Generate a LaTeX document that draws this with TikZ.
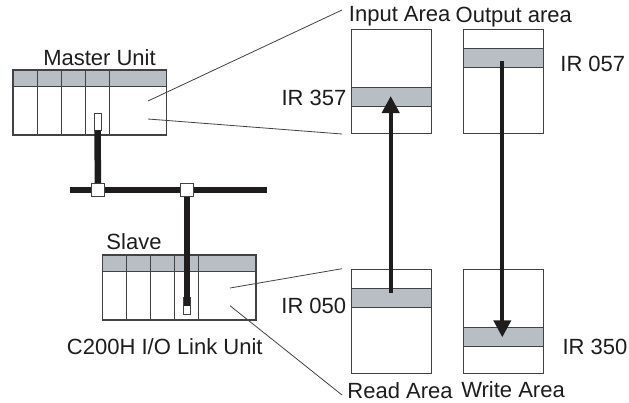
\documentclass[tikz,border=0pt]{standalone}
\usepackage{fontspec}
\setmainfont{Liberation Sans}
\usetikzlibrary{arrows.meta, calc}
\definecolor{bandgray}{HTML}{B9BEC4}
\definecolor{linegray}{HTML}{404244}
\definecolor{inkblack}{HTML}{1E1C1D}

\begin{document}
\begin{tikzpicture}[x=1pt, y=-1pt, font=\fontsize{22}{26}\selectfont, text=inkblack, inner sep=0pt,
    unitbox/.style={draw=linegray, line width=1.5pt, minimum width=153.5pt, minimum height=65pt},
    unitband/.style={draw=linegray, line width=0.9pt, fill=bandgray, minimum width=153.5pt, minimum height=16pt},
    areabox/.style={draw=linegray, line width=1pt, minimum width=80pt, minimum height=104pt},
    areaband/.style={draw=linegray, line width=1pt, fill=bandgray, minimum width=80pt, minimum height=19pt},
    slot/.style={draw=linegray, line width=0.8pt, fill=white, minimum width=7pt, minimum height=17pt},
    junction/.style={draw=linegray, line width=0.8pt, fill=white, minimum size=13pt},
    cable/.style={draw=inkblack, line width=6.5pt},
    leader/.style={draw=linegray, line width=0.8pt},
    transfer/.style={draw=inkblack, line width=4pt, -{Triangle[width=17pt, length=17pt]}}]
    \useasboundingbox (0,0) rectangle (629,402);

    % master unit
    \node[unitband] (masterband) at (89.75,78) {};
    \node[unitbox] (master) at (89.75,102.5) {};
    \foreach \xpos in {37,61,85.5,109.5}
        \draw[linegray, line width=0.8pt] (\xpos,70) -- (\xpos,135);
    \node[slot] (masterslot) at (97.5,121.5) {};
    \node (masterlabel) at (99.5,58) {Master Unit};

    % slave unit
    \node[unitband] (slaveband) at (179,263) {};
    \node[unitbox] (slave) at (179,287.5) {};
    \foreach \xpos in {126.3,150.3,174.7,198.3}
        \draw[linegray, line width=0.8pt] (\xpos,255) -- (\xpos,320);
    \node[slot] (slaveslot) at (186.8,306) {};
    \node (slavelabel) at (134,242) {Slave};
    \node (linklabel) at (164.8,346.5) {C200H I/O Link Unit};

    % cable
    \node[junction] (joina) at (98,190) {};
    \node[junction] (joinb) at (187,190) {};
    \coordinate (busleft) at (70,190);
    \coordinate (busright) at (267,190);
    \coordinate (slaveplug) at (187,306);
    \draw[cable] (busleft) -- (joina);
    \draw[cable] (joina) -- (joinb);
    \draw[cable] (joinb) -- (busright);
    \draw[cable] (masterslot.south) -- (joina);
    \draw[cable] (joinb) -- (slaveplug);

    % memory areas
    \node[areabox] (input) at (391.7,81) {};
    \node[areabox] (output) at (503.5,81) {};
    \node[areabox] (read) at (391.7,321) {};
    \node[areabox] (write) at (503.5,321) {};
    \node[areaband] (ir357) at (391.7,97.3) {};
    \node[areaband] (ir057) at (503.5,58.2) {};
    \node[areaband] (ir050) at (391.7,297.8) {};
    \node[areaband] (ir350) at (503.5,337.2) {};

    \node (inputlabel) at (399.7,16) {Input Area};
    \node (outputlabel) at (513.8,17) {Output area};
    \node (readlabel) at (400,391) {Read Area};
    \node (writelabel) at (513,390) {Write Area};
    \node (ir357label) at (314,98) {IR 357};
    \node (ir057label) at (592.8,64) {IR 057};
    \node (ir050label) at (313.8,306) {IR 050};
    \node (ir350label) at (595,346.5) {IR 350};

    % leader lines
    \coordinate (mastera) at (148,101);
    \coordinate (masterb) at (148,119);
    \coordinate (slavea) at (230,288);
    \coordinate (slaveb) at (230,305.7);
    \coordinate (inputa) at (342,10);
    \coordinate (inputb) at (342,134);
    \coordinate (reada) at (342,268.7);
    \coordinate (readb) at (342,395);
    \draw[leader] (mastera) -- (inputa);
    \draw[leader] (masterb) -- (inputb);
    \draw[leader] (slavea) -- (reada);
    \draw[leader] (slaveb) -- (readb);

    % transfers
    \coordinate (readstart) at (390.7,292.7);
    \coordinate (inputend) at (390.7,96);
    \coordinate (outputstart) at (502.3,61);
    \coordinate (writeend) at (502.3,337.3);
    \draw[transfer] (readstart) -- (inputend);
    \draw[transfer] (outputstart) -- (writeend);
\end{tikzpicture}
\end{document}
